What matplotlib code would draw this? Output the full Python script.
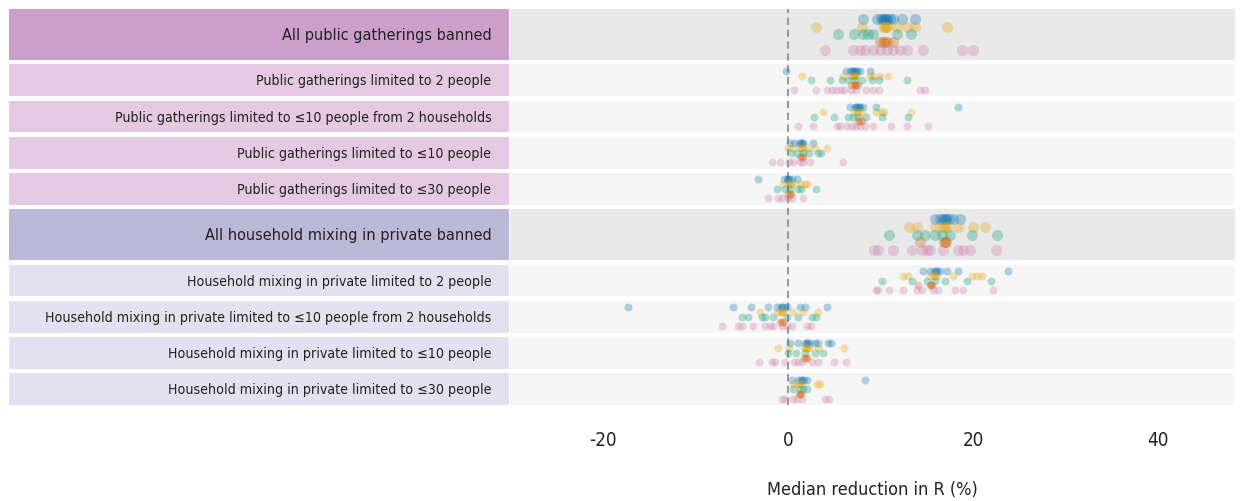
import matplotlib
matplotlib.use('Agg')
import matplotlib.pyplot as plt

plt.rcParams['font.family'] = ['DejaVu Sans']
plt.rcParams['font.stretch'] = 'condensed'
plt.rcParams['axes.unicode_minus'] = False

# ---- measures (top to bottom) ----
labels = [
    'All public gatherings banned',
    'Public gatherings limited to 2 people',
    'Public gatherings limited to \u226410 people from 2 households',
    'Public gatherings limited to \u226410 people',
    'Public gatherings limited to \u226430 people',
    'All household mixing in private banned',
    'Household mixing in private limited to 2 people',
    'Household mixing in private limited to \u226410 people from 2 households',
    'Household mixing in private limited to \u226410 people',
    'Household mixing in private limited to \u226430 people',
]
is_header = [True, False, False, False, False, True, False, False, False, False]
group = ['public'] * 5 + ['household'] * 5

# ---- median reduction in R (%) per model, one list per measure ----
blue = [
    [8.1, 9.6, 10.1, 10.3, 10.4, 10.6, 10.7, 11.0, 11.4, 12.3, 13.7],
    [-0.2, 6.3, 6.7, 6.9, 7.0, 7.1, 7.3, 7.5, 7.8, 8.9],
    [6.7, 7.2, 7.4, 7.5, 7.7, 7.8, 8.1, 9.5, 18.4],
    [0.2, 0.6, 1.2, 1.4, 1.5, 1.6, 2.7],
    [-3.2, -0.4, -0.1, 0.0, 0.1, 0.4, 1.0],
    [15.9, 16.4, 16.8, 17.0, 17.1, 17.4, 17.8, 18.6],
    [14.6, 15.4, 15.8, 16.0, 16.1, 16.4, 17.2, 18.4, 23.8],
    [-17.3, -5.9, -4.0, -2.2, -1.2, -0.8, -0.6, -0.4, -0.1, 1.3, 1.8, 4.2],
    [0.2, 1.1, 1.8, 2.0, 2.1, 2.4, 2.9, 3.2, 4.3, 4.6],
    [0.4, 1.1, 1.4, 1.5, 1.7, 2.0, 8.3],
]
orange = [
    [3.0, 8.0, 10.3, 10.5, 10.6, 10.7, 11.8, 12.9, 13.7, 17.2],
    [1.5, 5.9, 6.8, 7.0, 7.1, 7.2, 7.4, 8.9, 9.2, 9.9, 10.8],
    [3.8, 7.1, 7.5, 7.6, 8.0, 9.5, 10.2, 10.4, 13.3],
    [0.0, 0.5, 1.3, 1.5, 1.6, 2.2, 2.9, 4.2],
    [-0.5, 0.1, 0.3, 0.4, 1.3, 1.8, 2.1],
    [13.1, 13.9, 15.9, 16.8, 17.0, 17.2, 18.4, 20.0, 21.3],
    [12.4, 13.0, 15.4, 15.8, 15.9, 16.1, 17.8, 19.9, 20.4, 21.0],
    [-3.0, -1.2, -0.8, -0.7, -0.5, 0.5, 1.6, 3.2],
    [-1.1, 0.1, 1.7, 1.9, 2.0, 2.3, 3.2, 6.0],
    [0.5, 1.0, 1.3, 1.5, 3.1, 3.5],
]
green = [
    [5.4, 7.1, 8.1, 8.6, 9.2, 11.8, 13.3],
    [2.5, 4.5, 5.8, 6.5, 7.2, 8.0, 9.1, 9.8, 12.9],
    [2.8, 5.0, 6.5, 7.0, 7.6, 8.4, 10.2, 13.0],
    [0.3, 1.0, 1.6, 2.3, 3.2, 3.6],
    [-1.2, -0.3, 0.2, 1.1, 1.4, 3.0],
    [10.9, 13.9, 14.8, 15.9, 16.6, 17.5, 19.9, 22.6],
    [10.2, 13.4, 15.0, 15.9, 17.0, 19.4, 21.9],
    [-5.0, -4.3, -2.8, -2.5, -1.6, -0.1, 1.1, 2.6, 3.0],
    [0.0, 0.9, 1.8, 2.9, 3.8],
    [0.5, 1.3, 1.6, 2.0],
]
vermillion = [
    [9.9, 10.3, 10.5, 10.7, 11.4],
    [6.8, 7.1, 7.2, 7.4, 7.6],
    [7.6, 7.8, 8.0],
    [1.3, 1.5, 1.6],
    [0.0, 0.2, 0.3],
    [14.3, 16.9, 17.0, 17.1],
    [14.1, 15.4, 15.5, 15.6],
    [-0.9, -0.7, -0.5],
    [1.7, 1.9, 2.0],
    [1.2, 1.3, 1.4],
]
pink = [
    [4.0, 7.0, 7.8, 8.3, 9.2, 9.9, 10.7, 11.4, 12.1, 12.9, 14.6, 18.8, 20.0],
    [0.7, 3.0, 4.2, 4.8, 5.2, 5.7, 6.1, 6.8, 7.3, 8.4, 9.2, 9.8, 14.3, 14.8],
    [1.1, 2.7, 5.3, 5.6, 6.4, 6.9, 7.4, 7.8, 8.3, 9.2, 11.1, 12.9, 15.1],
    [-1.7, -0.9, 0.1, 0.5, 1.3, 1.6, 2.4, 5.9],
    [-2.2, -1.1, -0.7, 0.0, 0.4, 1.6],
    [9.3, 9.7, 11.4, 13.4, 14.5, 15.0, 15.4, 16.8, 18.4, 18.9, 19.7, 22.5],
    [9.5, 9.7, 10.9, 12.4, 13.9, 14.5, 15.7, 16.2, 18.0, 18.9, 22.2],
    [-7.1, -5.4, -5.0, -3.8, -2.5, -2.0, -1.6, -0.6, -0.1, 0.4, 2.1, 2.5],
    [-3.1, -1.7, -1.4, -0.3, 0.6, 1.1, 1.5, 2.6, 3.2, 5.0, 6.3],
    [-0.6, -0.3, 0.5, 1.0, 1.5, 4.0, 4.4],
]

series = [
    (blue, '#0072B2', -0.30),
    (orange, '#E69F00', -0.15),
    (green, '#009E73', 0.0),
    (vermillion, '#D55E00', 0.15),
    (pink, '#CC79A7', 0.30),
]

label_colors = {
    ('public', True): '#CC9FCB', ('public', False): '#E5C8E2',
    ('household', True): '#BAB7D7', ('household', False): '#E3E1F0',
}

# row geometry (y grows downwards)
HEAD_H, SUB_H, GAP = 51, 31.7, 4.5
tops, heights = [], []
y = 0
for h in is_header:
    hh = HEAD_H if h else SUB_H
    tops.append(y)
    heights.append(hh)
    y += hh + GAP
total = tops[-1] + heights[-1]

W, H = 1250, 502
fig = plt.figure(figsize=(12.5, 5.02), dpi=100)
bottom = (H - 406) / H
height = 396 / H
ax_lab = fig.add_axes([9 / W, bottom, 500.5 / W, height])
ax = fig.add_axes([510 / W, bottom, 725 / W, height])

x0 = 788
scale = 9.25
xmin, xmax = (510 - x0) / scale, (1235 - x0) / scale

for a in (ax_lab, ax):
    a.set_ylim(total, 0)
    for s in a.spines.values():
        s.set_visible(False)

# label boxes
ax_lab.set_xlim(0, 1)
ax_lab.set_xticks([])
ax_lab.set_yticks([])
for i, lab in enumerate(labels):
    c = label_colors[(group[i], is_header[i])]
    ax_lab.barh(tops[i], 1, height=heights[i], left=0, align='edge', color=c, linewidth=0)
    ax_lab.text(0.964, tops[i] + heights[i] / 2, lab, ha='right', va='center',
                fontsize=11.6 if is_header[i] else 10.2, color='#222222')

# point panels
ax.set_xlim(xmin, xmax)
for i in range(len(labels)):
    bg = '#E8E8E8' if is_header[i] else '#F5F5F5'
    ax.axhspan(tops[i], tops[i] + heights[i], color=bg, linewidth=0, zorder=0)

ax.axvline(0, color='#9a9a9a', linestyle=(0, (3.5, 2.2)), linewidth=1.5, zorder=1)

for vals, col, off in series:
    for i, row in enumerate(vals):
        yc = tops[i] + heights[i] / 2 + off * heights[i]
        size = 63 if is_header[i] else 33
        ax.scatter(row, [yc] * len(row), s=size, color=col, alpha=0.3,
                   linewidths=0, zorder=2)

ax.set_yticks([])
ax.set_xticks([-20, 0, 20, 40])
ax.tick_params(axis='x', length=0, pad=18, labelsize=13.5, labelcolor='#222222')
ax.set_xlabel('Median reduction in R (%)', fontsize=13, color='#222222', labelpad=22)

fig.savefig('out.png', dpi=100)
